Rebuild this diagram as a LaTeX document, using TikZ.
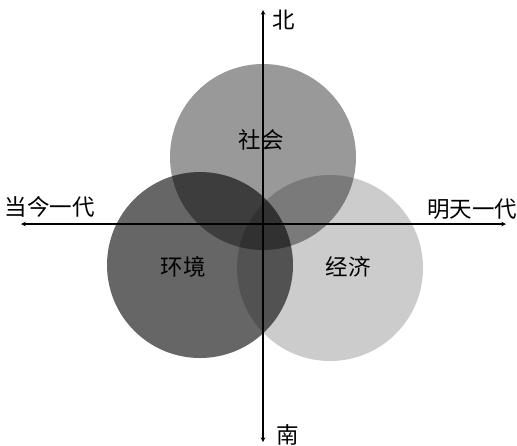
\documentclass[tikz,border=0pt]{standalone}
\usepackage{fontspec}
\newfontfamily\cjk{Noto Sans CJK SC}
\usetikzlibrary{shapes.geometric, arrows}
\tikzstyle{disc} = [circle, 
minimum size=186pt, 
inner sep=0pt, 
draw=none, 
fill=black]
\tikzstyle{word} = [font=\cjk\fontsize{22.5}{22.5}\selectfont, 
inner sep=0pt]
\tikzstyle{coord} = [coordinate]
\tikzstyle{arrow} = [line width=1.1pt,->,>=stealth]

\begin{document}
\begin{tikzpicture} [x=1pt, y=-1pt]
		\useasboundingbox (0,0) rectangle (517,445);
		% the three circles
		\node (eco) [disc, fill opacity=0.2] at (330,268) {};
		\node (soc) [disc, fill opacity=0.4] at (263,157) {};
		\node (env) [disc, fill opacity=0.6] at (200,265) {};
		% axes
		\node (o) [coord] at (263,224) {};
		\node (n) [coord] at (263,10) {};
		\node (s) [coord] at (263,442) {};
		\node (w) [coord] at (21,224) {};
		\node (e) [coord] at (506,224) {};
		\draw [arrow] (o) -- (n);
		\draw [arrow] (o) -- (s);
		\draw [arrow] (o) -- (w);
		\draw [arrow] (o) -- (e);
		% labels
		\node (north) [word] at (284,20) {北};
		\node (south) [word] at (288,435) {南};
		\node (now) [word] at (50,207) {当今一代};
		\node (next) [word] at (472,209) {明天一代};
		\node (socl) [word] at (261,140) {社会};
		\node (envl) [word] at (183,267) {环境};
		\node (ecol) [word] at (348,267) {经济};
	\end{tikzpicture}
\end{document}
